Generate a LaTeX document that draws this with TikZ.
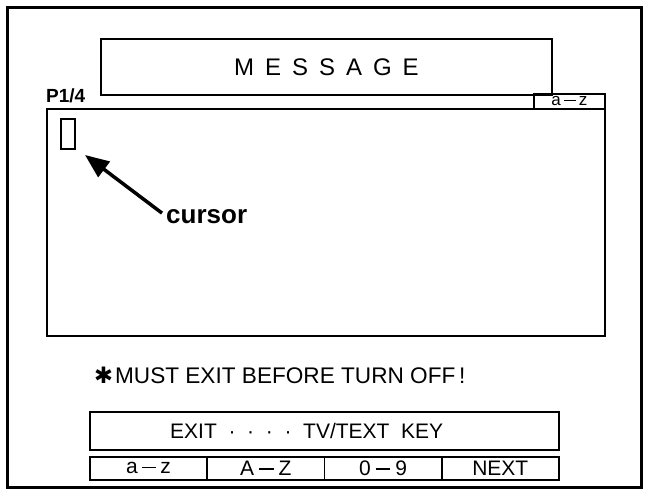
\documentclass[tikz,border=0pt]{standalone}
\usepackage{fontspec}
\setmainfont{Liberation Sans}
\newfontfamily\symfont{DejaVu Sans}
\usetikzlibrary{arrows.meta}
\newcommand\kdash[1]{\kern#1\rule[0.28em]{0.7em}{1.5pt}\kern#1}
\tikzset{
  frame/.style={draw, line width=3pt},
  box/.style={draw, line width=1.8pt, inner sep=0pt, anchor=north west},
  lbl/.style={inner sep=0pt},
  pointer/.style={line width=3.5pt, -{Triangle[length=24pt,width=19pt]}},
  keyfont/.style={font=\fontsize{21}{23}\selectfont},
}
\begin{document}
\begin{tikzpicture}[x=1pt,y=-1pt]
\useasboundingbox (0,0) rectangle (645,488);
\node[frame, anchor=north west, minimum width=634, minimum height=480, inner sep=0pt] (outer) at (6,6) {};
\node[box, minimum width=451, minimum height=56] (title) at (100,38) {};
\node[lbl, font=\fontsize{24}{26}\selectfont] (titletext) at (title.center) {M\hspace{11pt}E\hspace{11pt}S\hspace{11pt}S\hspace{11pt}A\hspace{11pt}G\hspace{11pt}E};
\node[lbl, anchor=base west, font=\bfseries\fontsize{19}{21}\selectfont] (page) at (46,102) {P1/4};
\node[box, minimum width=71, minimum height=15] (tab) at (533,93) {};
\node[lbl, font=\fontsize{17}{18}\selectfont] (tabtext) at (tab.center) {a\kdash{3pt}z};
\node[box, minimum width=558, minimum height=227] (screen) at (46,108) {};
\node[box, line width=1.6pt, minimum width=14, minimum height=30] (cur) at (60,118) {};
\node[lbl, anchor=base west, font=\bfseries\fontsize{26}{28}\selectfont] (curlbl) at (166,223) {cursor};
\coordinate (tip) at (85,155);
\draw[pointer, shorten <=5pt] (curlbl.west) -- (tip);
\node[lbl, anchor=base west, font=\fontsize{22.6}{24}\selectfont] (warn) at (94,383) {{\symfont ✱}\kern2pt MUST EXIT BEFORE TURN OFF\,!};
\node[box, minimum width=469, minimum height=38] (exitbox) at (89,411) {};
\node[lbl, anchor=west, keyfont] (exittext) at ([xshift=81pt]exitbox.west) {EXIT\ \ · \ · \ · \ ·\ \ TV/TEXT\ \ KEY};
\node[box, minimum width=117.25, minimum height=23] (b1) at (89,456) {};
\node[box, minimum width=117.25, minimum height=23] (b2) at (206.25,456) {};
\node[box, minimum width=117.25, minimum height=23] (b3) at (323.5,456) {};
\node[box, minimum width=117.25, minimum height=23] (b4) at (440.75,456) {};
\node[lbl, keyfont] (t1) at (b1.center) {a\kdash{4pt}z};
\node[lbl, keyfont] (t2) at (b2.center) {A\kdash{5pt}Z};
\node[lbl, keyfont] (t3) at (b3.center) {0\kdash{5pt}9};
\node[lbl, keyfont] (t4) at (b4.center) {NEXT};
\end{tikzpicture}
\end{document}
